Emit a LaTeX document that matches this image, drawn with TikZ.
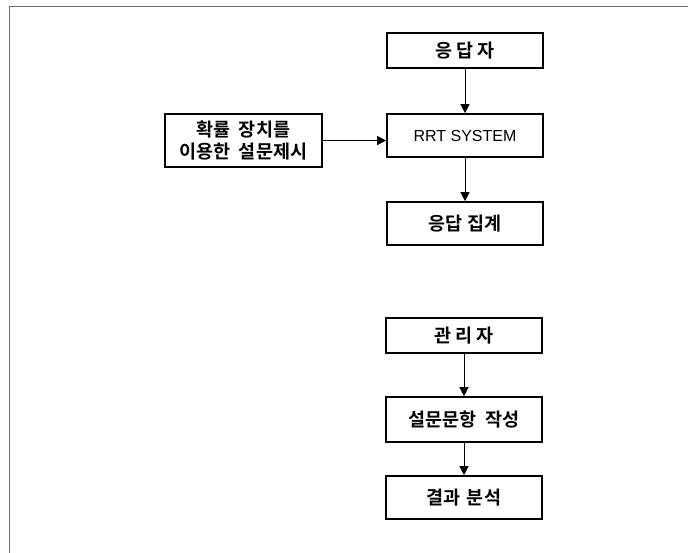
\documentclass[tikz,border=0pt]{standalone}
\usepackage{fontspec}
\setmainfont{Liberation Sans}
\newfontfamily\kor{Noto Sans CJK KR}[BoldFont={* Bold}]
\usetikzlibrary{arrows.meta}
\definecolor{framegray}{RGB}{110,110,110}
\newcommand{\ks}[1]{\hspace*{#1pt}}
\tikzset{
  box/.style={draw=black, line width=1.6pt, fill=white, minimum width=156pt, inner sep=0pt,
    align=center, font=\kor\bfseries\fontsize{18.5}{22.5}\selectfont},
  latin/.style={font=\fontsize{16}{18}\selectfont},
  conn/.style={draw=black, line width=1pt, -{Triangle[length=9pt,width=9pt]}},
  frameline/.style={draw=framegray, line width=1.6pt}
}
\begin{document}
\begin{tikzpicture}[x=1pt,y=-1pt]
\useasboundingbox (0,0) rectangle (688,553);
\coordinate (f0) at (688,6.5);
\coordinate (f1) at (9.5,6.5);
\coordinate (f2) at (9.5,553);
\draw[frameline] (f0) -- (f1) -- (f2);

\node[box, minimum height=35pt] (resp) at (465,50.5) {응\ks{4}답\ks{4}자};
\node[box, minimum height=43pt, latin] (rrt) at (465,135.5) {RRT SYSTEM};
\node[box, minimum height=53pt, minimum width=157pt] (dev) at (243.5,140.5) {확률\ks{8}장치를\\이용한\ks{8}설문제시};
\node[box, minimum height=43pt] (agg) at (465,223.5) {응답\ks{5}집계};

\node[box, minimum height=35pt] (mgr) at (464,335.5) {관\ks{4}리\ks{4}자};
\node[box, minimum height=45pt] (write) at (464,419.5) {설문문항\ks{9}작성};
\node[box, minimum height=43pt] (ana) at (464,497.5) {결과\ks{6}분석};

\draw[conn] (resp) -- (rrt);
\draw[conn] (rrt) -- (agg);
\draw[conn] (dev.east) -- (dev.east -| rrt.west);
\draw[conn] (mgr) -- (write);
\draw[conn] (write) -- (ana);
\end{tikzpicture}
\end{document}
